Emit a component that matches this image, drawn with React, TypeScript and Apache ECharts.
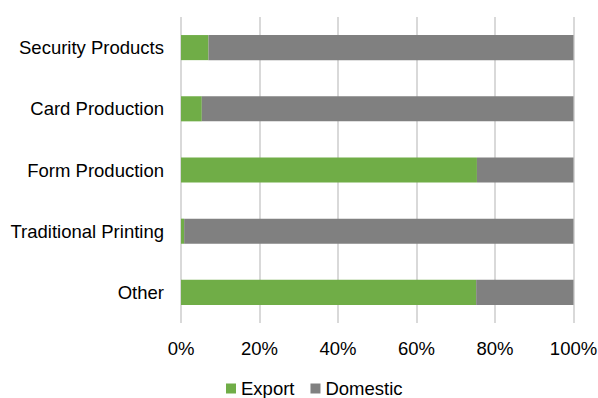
import React, { useEffect, useRef } from "react";
import * as echarts from "echarts";

const categories = ["Security Products", "Card Production", "Form Production", "Traditional Printing", "Other"];
const exportShare = [7.0, 5.3, 75.4, 0.8, 75.2];
const domesticShare = exportShare.map((v) => 100 - v);
const xTicks = [0, 20, 40, 60, 80, 100];

export default function App() {
  const ref = useRef<HTMLDivElement>(null);
  useEffect(() => {
    const chart = echarts.init(ref.current!, null, { renderer: "svg" });
    const font = "Arial, 'Liberation Sans', sans-serif";
    const fs = 18.5;
    chart.setOption({
      animation: false,
      textStyle: { fontFamily: font },
      grid: { left: 181, right: 24.5, top: 17, bottom: 75, outerBoundsMode: "none", containLabel: false },
      legend: {
        top: 379,
        left: 226,
        padding: 0,
        itemWidth: 10,
        itemHeight: 10,
        itemGap: 16,
        icon: "rect",
        textStyle: { fontSize: fs, color: "#000", fontFamily: font },
        data: ["Export", "Domestic"],
      },
      xAxis: {
        type: "value",
        min: 0,
        max: 100,
        interval: 20,
        axisLine: { show: false },
        axisTick: { show: false },
        splitLine: { lineStyle: { color: "#d9d9d9", width: 2 } },
        axisLabel: {
          fontSize: fs,
          color: "#000",
          margin: 16,
          fontFamily: font,
          formatter: (v: number) => (xTicks.includes(v) ? v + "%" : ""),
        },
      },
      yAxis: {
        type: "category",
        inverse: true,
        data: categories,
        axisLine: { show: false },
        axisTick: { show: false },
        axisLabel: { fontSize: fs, color: "#000", margin: 17, fontFamily: font },
      },
      series: [
        {
          name: "Export",
          type: "bar",
          stack: "total",
          data: exportShare,
          barCategoryGap: "59%",
          itemStyle: { color: "#70AD47" },
        },
        {
          name: "Domestic",
          type: "bar",
          stack: "total",
          data: domesticShare,
          barCategoryGap: "59%",
          itemStyle: { color: "#808080" },
        },
      ],
    });
    return () => chart.dispose();
  }, []);
  return <div ref={ref} style={{ width: 598, height: 398, position: "absolute", left: 0, top: 0 }} />;
}
